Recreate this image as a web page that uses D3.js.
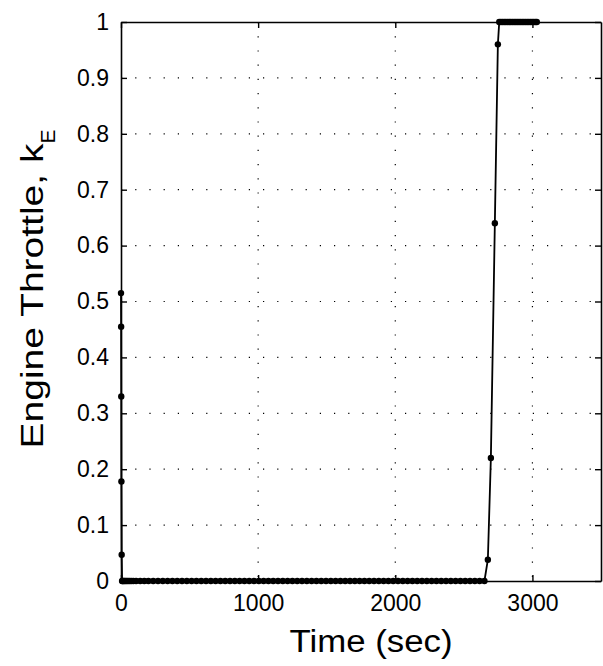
<!DOCTYPE html>
<html>
<head>
<meta charset="utf-8">
<script src="https://cdn.jsdelivr.net/npm/d3@7"></script>
<style>
  body { margin: 0; background: #fff; }
  text { font-family: "Liberation Sans", Arial, sans-serif; fill: #000; }
</style>
</head>
<body>
<script>
// samples, time in sec
var startTimes = [0, 1, 2, 3, 5, 8];
var startValues = [0.515, 0.455, 0.33, 0.178, 0.047, 0];

// idle, throttle sits at zero
var idleLevel = 0;
var idleTimes = [12, 18, 25, 33, 42, 52, 63, 75, 90, 110, 140, 170, 200, 235, 270, 305, 340, 375,
    410, 445, 480, 515, 550, 585, 620, 655, 690, 725, 760, 795, 830, 865, 900, 935, 970, 1005,
    1040, 1075, 1110, 1145, 1180, 1215, 1250, 1285, 1320, 1355, 1390, 1425, 1460, 1495, 1530,
    1565, 1600, 1635, 1670, 1705, 1740, 1775, 1810, 1845, 1880, 1915, 1950, 1985, 2020, 2055,
    2090, 2125, 2160, 2195, 2230, 2265, 2300, 2335, 2370, 2405, 2440, 2475, 2510, 2545, 2580,
    2615, 2650];

// ramp up
var rampTimes = [2675, 2697, 2726, 2748];
var rampValues = [0.038, 0.22, 0.64, 0.96];

// full throttle
var fullLevel = 1;
var fullTimes = [2758, 2770, 2782, 2794, 2806, 2818, 2830, 2842, 2854, 2866, 2878, 2890, 2902,
    2914, 2926, 2938, 2950, 2962, 2974, 2986, 2998, 3010, 3022, 3032];

var xTicks = [0, 1000, 2000, 3000];
var yTicks = [0, 0.1, 0.2, 0.3, 0.4, 0.5, 0.6, 0.7, 0.8, 0.9, 1];

var data = [];
startTimes.forEach(function (t, i) { data.push({t: t, v: startValues[i]}); });
idleTimes.forEach(function (t) { data.push({t: t, v: idleLevel}); });
rampTimes.forEach(function (t, i) { data.push({t: t, v: rampValues[i]}); });
fullTimes.forEach(function (t) { data.push({t: t, v: fullLevel}); });

var W = 603, H = 666;
var margin = {left: 121, top: 22, right: 2, bottom: 85};
var w = W - margin.left - margin.right,
    h = H - margin.top - margin.bottom;

var svg = d3.select("body").append("svg")
    .attr("width", W)
    .attr("height", H);

var g = svg.append("g")
    .attr("transform", "translate(" + margin.left + "," + margin.top + ")");

var x = d3.scaleLinear().domain([0, 3500]).range([0, w]);
var y = d3.scaleLinear().domain([0, 1]).range([h, 0]);

// dotted grid
g.append("g").selectAll("line.gx")
    .data(xTicks.filter(function (d) { return d > 0; }))
    .enter().append("line")
    .attr("x1", function (d) { return x(d); })
    .attr("x2", function (d) { return x(d); })
    .attr("y1", 0).attr("y2", h)
    .attr("stroke", "#000").attr("stroke-width", 1.2)
    .attr("stroke-dasharray", "1.2,13");

g.append("g").selectAll("line.gy")
    .data(yTicks.filter(function (d) { return d > 0 && d < 1; }))
    .enter().append("line")
    .attr("y1", function (d) { return y(d); })
    .attr("y2", function (d) { return y(d); })
    .attr("x1", 0).attr("x2", w)
    .attr("stroke", "#000").attr("stroke-width", 1.2)
    .attr("stroke-dasharray", "1.2,13");

// axes, ticks pointing in
var fmtY = function (d) { return d3.format("~g")(d); };
var fmtX = d3.format("d");

var xAxis = g.append("g")
    .attr("transform", "translate(0," + h + ")")
    .call(d3.axisBottom(x).tickValues(xTicks).tickSizeInner(-6).tickSizeOuter(0).tickPadding(14).tickFormat(fmtX));
var xTop = g.append("g")
    .call(d3.axisTop(x).tickValues(xTicks).tickSizeInner(-6).tickSizeOuter(0).tickFormat(""));
var yAxis = g.append("g")
    .call(d3.axisLeft(y).tickValues(yTicks).tickSizeInner(-6).tickSizeOuter(0).tickPadding(12).tickFormat(fmtY));
var yRight = g.append("g")
    .attr("transform", "translate(" + w + ",0)")
    .call(d3.axisRight(y).tickValues(yTicks).tickSizeInner(-6).tickSizeOuter(0).tickFormat(""));

[xAxis, xTop, yAxis, yRight].forEach(function (a) {
    a.select(".domain").attr("stroke-width", 1.6);
    a.selectAll(".tick line").attr("stroke-width", 1.4);
    a.selectAll("text").style("font-size", "23px").attr("fill", "#000");
});

// the trace
var line = d3.line()
    .x(function (d) { return x(d.t); })
    .y(function (d) { return y(d.v); });

g.append("path")
    .datum(data)
    .attr("d", line)
    .attr("fill", "none")
    .attr("stroke", "#000")
    .attr("stroke-width", 1.8);

g.append("g").selectAll("circle")
    .data(data)
    .enter().append("circle")
    .attr("cx", function (d) { return x(d.t); })
    .attr("cy", function (d) { return y(d.v); })
    .attr("r", 3.2)
    .attr("fill", "#000");

// axis titles
svg.append("text")
    .attr("x", 371)
    .attr("y", 652)
    .attr("text-anchor", "middle")
    .attr("textLength", 163)
    .attr("lengthAdjust", "spacingAndGlyphs")
    .style("font-size", "31px")
    .text("Time (sec)");

var yl = svg.append("text")
    .attr("transform", "translate(43,289) rotate(-90)")
    .attr("text-anchor", "middle")
    .style("font-size", "31px");
yl.append("tspan")
    .attr("textLength", 305)
    .attr("lengthAdjust", "spacingAndGlyphs")
    .text("Engine Throttle, k");
yl.append("tspan").attr("baseline-shift", "sub").style("font-size", "21px").text("E");
</script>
</body>
</html>
